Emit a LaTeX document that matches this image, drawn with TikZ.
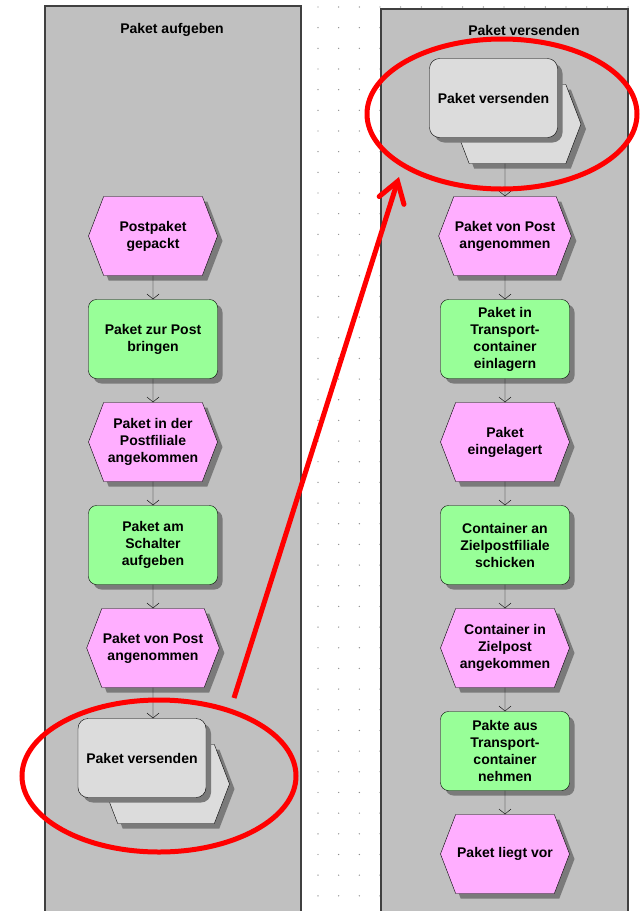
\documentclass[tikz,border=0pt]{standalone}
\usepackage{fontspec}
\setmainfont{Liberation Sans}
\usetikzlibrary{shapes.symbols,shadows,arrows.meta}

\definecolor{lanegray}{HTML}{C0C0C0}
\definecolor{eventpink}{HTML}{FFAEFF}
\definecolor{funcgreen}{HTML}{98FF98}
\definecolor{ifacegray}{HTML}{DCDCDC}
\definecolor{shadowgray}{HTML}{7A7A7A}

\begin{document}
\begin{tikzpicture}[
   x=1pt, y=-1pt,
   every node/.style={font=\fontsize{14}{17}\selectfont\bfseries, align=center},
   shadowed/.style={general shadow={fill=shadowgray, shadow xshift=5pt, shadow yshift=-5pt}},
   event/.style={signal, signal to=east and west, signal pointer angle=138, draw, fill=eventpink,
      minimum width=129pt, minimum height=79pt, inner sep=1pt, shadowed},
   func/.style={rectangle, rounded corners=8pt, draw, fill=funcgreen,
      minimum width=129pt, minimum height=79pt, inner sep=1pt, shadowed},
   iface/.style={rectangle, rounded corners=10pt, draw, fill=ifacegray,
      minimum width=128pt, minimum height=79pt, inner sep=1pt, shadowed},
   ifaceback/.style={signal, signal to=east and west, signal pointer angle=138, draw, fill=ifacegray,
      minimum width=127pt, minimum height=79pt, shadowed},
   flow/.style={-{Straight Barb[length=5pt,width=12pt]}, thin},
   lanebox/.style={fill=lanegray},
   laneline/.style={draw=black!75, line width=1.3pt},
   redring/.style={draw=red, line width=5pt},
   redarrow/.style={red, line width=5pt, -{Straight Barb[length=20pt,width=26pt,line cap=round]}}
]
\useasboundingbox (0,0) rectangle (640,911);

% Grid dots
\foreach \i in {0,...,15}
  \foreach \j in {0,...,44}
    \fill[black!45] (318+20.67*\i, 7+20.67*\j) circle (0.7);

% Lanes
\fill[lanebox] (45,6) rectangle (301,915);
\draw[laneline] (45,915) |- (301,6) -- (301,915);
\fill[lanebox] (381,9) rectangle (628,915);
\draw[laneline] (381,915) |- (628,9) -- (628,915);
\node (titleA) at (172,30) {Paket aufgeben};
\node (titleB) at (524,30) {Paket versenden};

% Left lane: Paket aufgeben
\node[event] (le1) at (153,236) {Postpaket\\gepackt};
\node[func]  (lf1) at (153,339) {Paket zur Post\\bringen};
\node[event] (le2) at (153,442) {Paket in der\\Postfiliale\\angekommen};
\node[func]  (lf2) at (153,545) {Paket am\\Schalter\\aufgeben};
\node[event] (le3) at (153,648) {Paket von Post\\angenommen};
\node[ifaceback] (pvAback) at (166,784) {};
\node[iface] (pvA) at (142,758) {Paket versenden};

% Right lane: Paket versenden
\node[ifaceback] (pvBback) at (517.5,124) {};
\node[iface] (pvB) at (493.5,98) {Paket versenden};
\node[event] (re1) at (505,236) {Paket von Post\\angenommen};
\node[func]  (rf1) at (505,339) {Paket in\\Transport-\\container\\einlagern};
\node[event] (re2) at (505,442) {Paket\\eingelagert};
\node[func]  (rf2) at (505,545) {Container an\\Zielpostfiliale\\schicken};
\node[event] (re3) at (505,648) {Container in\\Zielpost\\angekommen};
\node[func]  (rf3) at (505,751) {Pakte aus\\Transport-\\container\\nehmen};
\node[event] (re4) at (505,854) {Paket liegt vor};

% Arrows left lane
\draw[flow] (le1) -- (lf1);
\draw[flow] (lf1) -- (le2);
\draw[flow] (le2) -- (lf2);
\draw[flow] (lf2) -- (le3);
\draw[flow] (le3) -- (le3 |- pvA.north);

% Arrows right lane
\draw[flow] (pvBback.south -| re1) -- (re1);
\draw[flow] (re1) -- (rf1);
\draw[flow] (rf1) -- (re2);
\draw[flow] (re2) -- (rf2);
\draw[flow] (rf2) -- (re3);
\draw[flow] (re3) -- (rf3);
\draw[flow] (rf3) -- (re4);

% Red markings
\draw[redring] (159,776) ellipse [x radius=137, y radius=76];
\draw[redring] (502,114) ellipse [x radius=135, y radius=75];
\coordinate (markfrom) at (234,698);
\coordinate (markto) at (399,177);
\draw[redarrow] (markfrom) -- (markto);

\end{tikzpicture}
\end{document}
